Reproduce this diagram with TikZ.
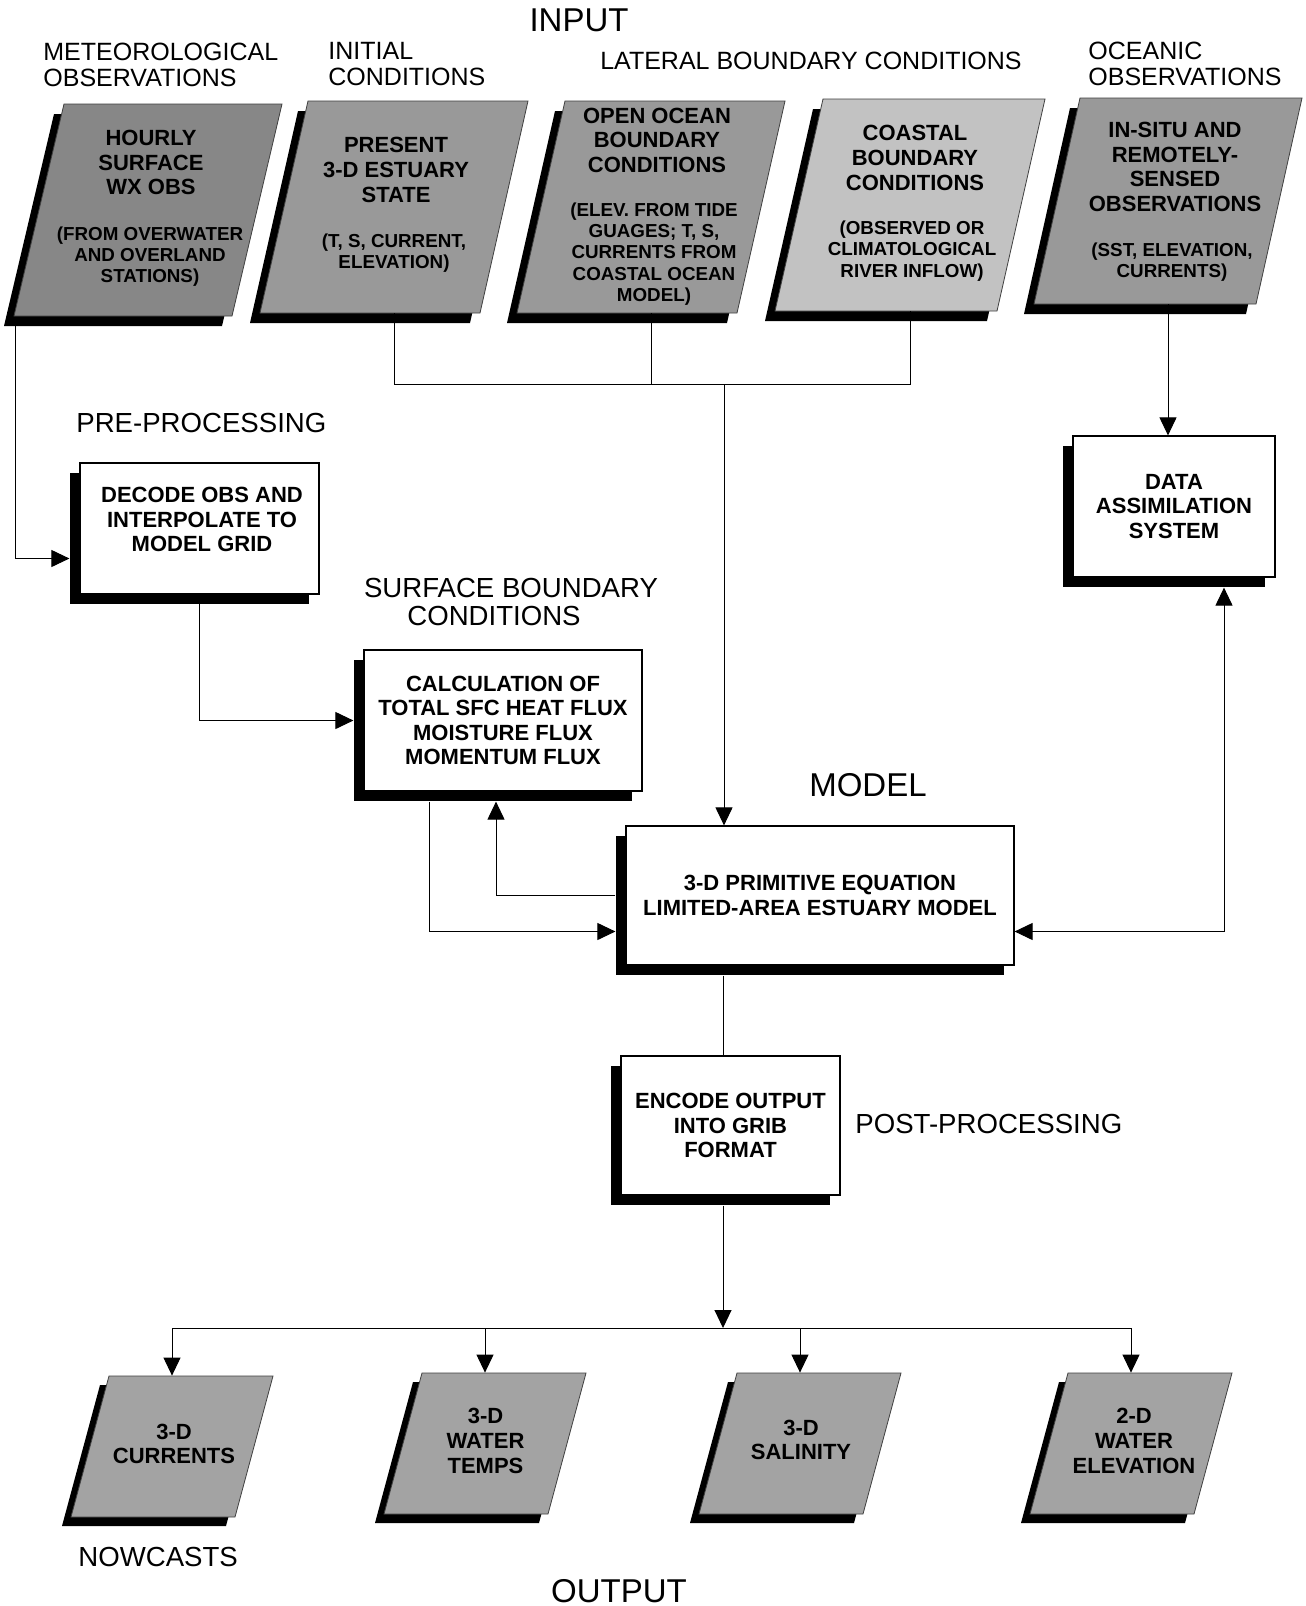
\documentclass[tikz,border=0pt]{standalone}
\usepackage{fontspec}
\setmainfont{Liberation Sans}
\usetikzlibrary{calc,arrows.meta,shadows}
% #1 name, #2 cx, #3 cy, #4 w, #5 h, #6 slant, #7 fill, #8 shadow offset
\newcommand\pgram[8]{%
  \fill[black] (#2-#4/2+#6/2-#8, #3-#5/2+#8) -- (#2+#4/2+#6/2-#8, #3-#5/2+#8) -- (#2+#4/2-#6/2-#8, #3+#5/2+#8) -- (#2-#4/2-#6/2-#8, #3+#5/2+#8) -- cycle;
  \filldraw[fill=#7, draw=black!75, line width=0.4pt] (#2-#4/2+#6/2, #3-#5/2) -- (#2+#4/2+#6/2, #3-#5/2) -- (#2+#4/2-#6/2, #3+#5/2) -- (#2-#4/2-#6/2, #3+#5/2) -- cycle;
  \node[inner sep=0, minimum width=#4*0.5pt, minimum height=#5*0.5pt] (#1) at (#2,#3) {};
}
\begin{document}
\begin{tikzpicture}[x=0.5pt,y=-0.5pt,
  hbig/.style={inner sep=0, font=\fontsize{16.5}{18}\selectfont},
  hmid/.style={inner sep=0, font=\fontsize{13.8}{15}\selectfont},
  hsml/.style={inner sep=0, align=left, font=\fontsize{12.5}{13}\selectfont},
  btxt/.style={inner sep=0, align=center, font=\bfseries\fontsize{11}{12.3}\selectfont},
  ptxt/.style={inner sep=0, align=center, font=\bfseries\fontsize{9.4}{10.6}\selectfont},
  procbox/.style={draw, line width=0.6pt, fill=white, inner sep=0, align=center,
    font=\bfseries\fontsize{11}{12.3}\selectfont,
    drop shadow={shadow xshift=-5pt, shadow yshift=-5pt, fill=black, opacity=1}},
  conn/.style={line width=0.5pt},
  arr/.style={conn, -{Triangle[length=9pt,width=8.5pt]}},
  arrb/.style={conn, {Triangle[length=9pt,width=8.5pt]}-{Triangle[length=9pt,width=8.5pt]}},
]
\useasboundingbox (0,0) rectangle (1306,1606);
\fill[white] (0,0) rectangle (1306,1606);

% ---------- headings ----------
\node[hbig] (hinput) at (579,20) {INPUT};
\node[hsml, anchor=west] (hmet) at (43,64.5) {METEOROLOGICAL\\OBSERVATIONS};
\node[hsml, anchor=west] (hinit) at (328,64) {INITIAL\\CONDITIONS};
\node[hsml] (hlat) at (811,61) {LATERAL BOUNDARY CONDITIONS};
\node[hsml, anchor=west] (hocean) at (1088,64) {OCEANIC\\OBSERVATIONS};
\node[hmid, anchor=west] (hpre) at (76,423) {PRE-PROCESSING};
\node[hmid] (hsbc1) at (511,588) {SURFACE BOUNDARY};
\node[hmid] (hsbc2) at (494,616) {CONDITIONS};
\node[hbig] (hmodel) at (868,785) {MODEL};
\node[hmid, anchor=west] (hpost) at (855,1124) {POST-PROCESSING};
\node[hmid, anchor=west] (hnow) at (78,1557) {NOWCASTS};
\node[hbig] (houtput) at (619,1591) {OUTPUT};

% ---------- input parallelograms ----------
\pgram{met}{148}{210}{218}{212}{50}{black!47}{10}
\pgram{init}{394}{207}{220}{212}{48}{black!40}{10}
\pgram{open}{651}{207}{220}{212}{48}{black!40}{10}
\pgram{coast}{910}{205}{222}{212}{48}{black!24}{10}
\pgram{insitu}{1168}{201}{222}{206}{46}{black!40}{10}

\node[btxt] (metT) at (151,162.5) {HOURLY\\SURFACE\\WX OBS};
\node[ptxt] (metP) at (150,256.5) {(FROM OVERWATER\\AND OVERLAND\\STATIONS)};
\node[btxt] (initT) at (396,170) {PRESENT\\3-D ESTUARY\\STATE};
\node[ptxt] (initP) at (394,253) {(T, S, CURRENT,\\ELEVATION)};
\node[btxt] (openT) at (657,140.3) {OPEN OCEAN\\BOUNDARY\\CONDITIONS};
\node[ptxt] (openP) at (654,254) {(ELEV. FROM TIDE\\GUAGES; T, S,\\CURRENTS FROM\\COASTAL OCEAN\\MODEL)};
\node[btxt] (coastT) at (915,158) {COASTAL\\BOUNDARY\\CONDITIONS};
\node[ptxt] (coastP) at (912,251) {(OBSERVED OR\\CLIMATOLOGICAL\\RIVER INFLOW)};
\node[btxt] (insituT) at (1175,167) {IN-SITU AND\\REMOTELY-\\SENSED\\OBSERVATIONS};
\node[ptxt] (insituP) at (1172,262) {(SST, ELEVATION,\\CURRENTS)};

% ---------- process boxes ----------
\node[procbox, minimum width=119.5pt, minimum height=65.5pt] (decode) at (199.5,528.5) {};
\node[btxt] (decodeT) at (202,519.5) {DECODE OBS AND\\INTERPOLATE TO\\MODEL GRID};
\node[procbox, minimum width=139pt, minimum height=70.5pt] (calc) at (503,720.5) {CALCULATION OF\\TOTAL SFC HEAT FLUX\\MOISTURE FLUX\\MOMENTUM FLUX};
\node[procbox, minimum width=194pt, minimum height=69.5pt] (model) at (820,895.5) {3-D PRIMITIVE EQUATION\\LIMITED-AREA ESTUARY MODEL};
\node[procbox, minimum width=101pt, minimum height=70.5pt] (da) at (1174,506.5) {DATA\\ASSIMILATION\\SYSTEM};
\node[procbox, minimum width=109.5pt, minimum height=69.5pt] (encode) at (730.5,1125.5) {ENCODE OUTPUT\\INTO GRIB\\FORMAT};

% ---------- output parallelograms ----------
\pgram{out1}{172}{1446.5}{164}{141}{38}{black!36}{9}
\pgram{out2}{485}{1443.5}{164}{141}{38}{black!36}{9}
\pgram{out3}{800}{1443.5}{164}{141}{38}{black!36}{9}
\pgram{out4}{1131}{1443.5}{164}{141}{38}{black!36}{9}
\node[btxt] (out1T) at (174,1444) {3-D\\CURRENTS};
\node[btxt] (out2T) at (485.5,1441) {3-D\\WATER\\TEMPS};
\node[btxt] (out3T) at (801,1440) {3-D\\SALINITY};
\node[btxt] (out4T) at (1134,1441) {2-D\\WATER\\ELEVATION};

% ---------- connectors ----------
\coordinate (metbl) at (15,318);
\coordinate (jn) at (724,384);
\coordinate (bus) at (723,1328);

\draw[arr] (metbl) |- ($(decode.west)+(-10,30)$);
\draw[arr] (decode.south) |- ($(calc.west)+(-10,0)$);
\draw[conn] (init.south) |- (coast.south |- jn) -- (coast.south);
\draw[conn] (open.south) -- (open.south |- jn);
\draw[arr] (jn) -- (jn |- model.north);
\draw[arr] (insitu.south) -- (insitu.south |- da.north);
\draw[arr] ($(calc.south)+(-74,10)$) |- ($(model.west)+(-10,36)$);
\draw[arr] ($(model.west)+(-10,0)$) -| ($(calc.south)+(-7,10)$);
\draw[arrb] ($(model.east)+(0,36)$) -| ($(da.south)+(50,10)$);
\draw[conn] ($(model.south)+(-97,10)$) -- ($(encode.north)+(-7.5,0)$);
\draw[arr] ($(encode.south)+(-7.5,10)$) -- (bus);
\draw[conn] (out1.north |- bus) -- (out4.north |- bus);
\draw[arr] (out1.north |- bus) -- (out1.north);
\draw[arr] (out2.north |- bus) -- (out2.north);
\draw[arr] (out3.north |- bus) -- (out3.north);
\draw[arr] (out4.north |- bus) -- (out4.north);
\end{tikzpicture}
\end{document}
